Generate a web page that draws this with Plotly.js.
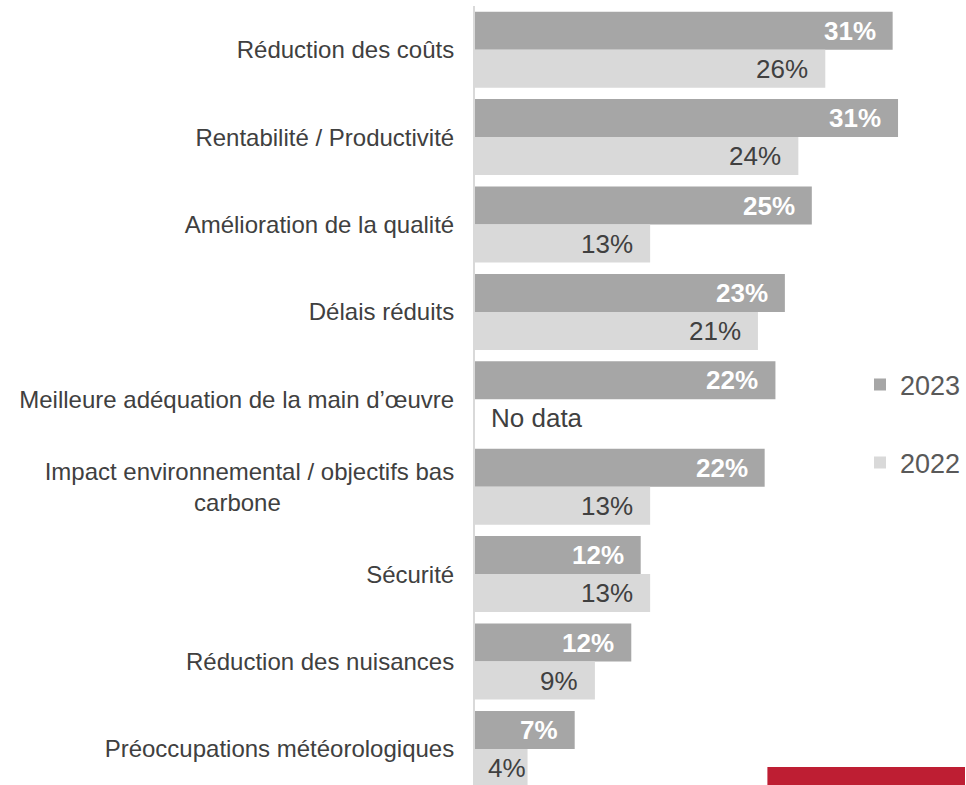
<!DOCTYPE html>
<html>
<head>
<meta charset="utf-8">
<script src="https://cdn.plot.ly/plotly-3.0.1.min.js"></script>
<style>
  html, body { margin: 0; padding: 0; background: #ffffff; }
  #chart { width: 966px; height: 785px; }
</style>
</head>
<body>
<div id="chart"></div>
<script>
// ---- Data ----
const categories = [
  "Réduction des coûts",
  "Rentabilité / Productivité",
  "Amélioration de la qualité",
  "Délais réduits",
  "Meilleure adéquation de la main d’œuvre",
  "Impact environnemental / objectifs bas<br>carbone" + "\u00a0".repeat(26),
  "Sécurité",
  "Réduction des nuisances",
  "Préoccupations météorologiques"
];
const series2023Name = "2023";
const series2022Name = "2022";
const values2023 = [31.0, 31.4, 25.0, 23.0, 22.3, 21.5, 12.3, 11.6, 7.4];
const values2022 = [26.0, 24.0, 13.0, 21.0, null, 13.0, 13.0, 8.9, 3.9];
const noDataText = "No data";

// ---- Styling ----
const FONT = "Arial, 'Liberation Sans', Helvetica, sans-serif";
const color2023 = "#a6a6a6";
const color2022 = "#d9d9d9";
const textDark = "#404040";
const X_MAX = 36.37;
const PX_PER_UNIT = 491 / X_MAX;

const fmt = v => Math.round(v) + "%";
// inside-end label; if the bar is too short, the label sits flush at the bar end
const labelShift = v => (v * PX_PER_UNIT < 70 ? 0 : -15);

const trace2023 = {
  type: "bar", orientation: "h", name: series2023Name,
  y: categories, x: values2023,
  marker: { color: color2023, line: { width: 0 } },
  legendgroup: "g2023", hoverinfo: "skip"
};
const trace2022 = {
  type: "bar", orientation: "h", name: series2022Name,
  y: categories, x: values2022,
  marker: { color: color2022, line: { width: 0 } },
  legendgroup: "g2022", hoverinfo: "skip"
};

const BAR_SHIFT = 19; // half of a bar thickness in px
const annotations = [];
categories.forEach((c, i) => {
  annotations.push({
    x: values2023[i], y: c, xref: "x", yref: "y",
    text: "<b>" + fmt(values2023[i]) + "</b>",
    showarrow: false, xanchor: "right", yanchor: "middle",
    xshift: labelShift(values2023[i]), yshift: BAR_SHIFT,
    font: { family: FONT, size: 26, color: "#ffffff" }
  });
  const v = values2022[i];
  if (v === null) {
    annotations.push({
      x: 0, y: c, xref: "x", yref: "y",
      text: noDataText,
      showarrow: false, xanchor: "left", yanchor: "middle",
      xshift: 14, yshift: -BAR_SHIFT,
      font: { family: FONT, size: 26, color: textDark }
    });
  } else {
    annotations.push({
      x: v, y: c, xref: "x", yref: "y",
      text: fmt(v),
      showarrow: false, xanchor: "right", yanchor: "middle",
      xshift: labelShift(v), yshift: -BAR_SHIFT,
      font: { family: FONT, size: 26, color: textDark }
    });
  }
});

const layout = {
  width: 966, height: 785,
  margin: { l: 475, r: 0, t: 6, b: 0, pad: 0 },
  paper_bgcolor: "#ffffff", plot_bgcolor: "#ffffff",
  font: { family: FONT, color: textDark },
  barmode: "group",
  bargap: 0.13, bargroupgap: 0,
  showlegend: true,
  legend: {
    x: 0.785, xanchor: "left",
    y: 0.545, yanchor: "top",
    font: { family: FONT, size: 27, color: "#595959" },
    traceorder: "grouped",
    tracegroupgap: 40,
    bgcolor: "rgba(0,0,0,0)"
  },
  xaxis: {
    range: [0, X_MAX],
    showgrid: false, zeroline: false, showline: false,
    showticklabels: false, ticks: "", fixedrange: true
  },
  yaxis: {
    type: "category",
    range: [8.413, -0.5],
    showgrid: false, zeroline: false,
    showline: true, linecolor: "#d9d9d9", linewidth: 2,
    ticks: "", ticklabelstandoff: 14,
    tickfont: { family: FONT, size: 24, color: textDark },
    fixedrange: true
  },
  annotations: annotations,
  shapes: [{
    type: "rect", xref: "paper", yref: "paper",
    x0: (768 - 475) / 491, x1: 1,
    y0: 0, y1: 18 / 779,
    fillcolor: "#be1e33", line: { width: 0 }, layer: "above"
  }]
};

Plotly.newPlot("chart", [trace2023, trace2022], layout, { displayModeBar: false, staticPlot: true });
</script>
</body>
</html>
